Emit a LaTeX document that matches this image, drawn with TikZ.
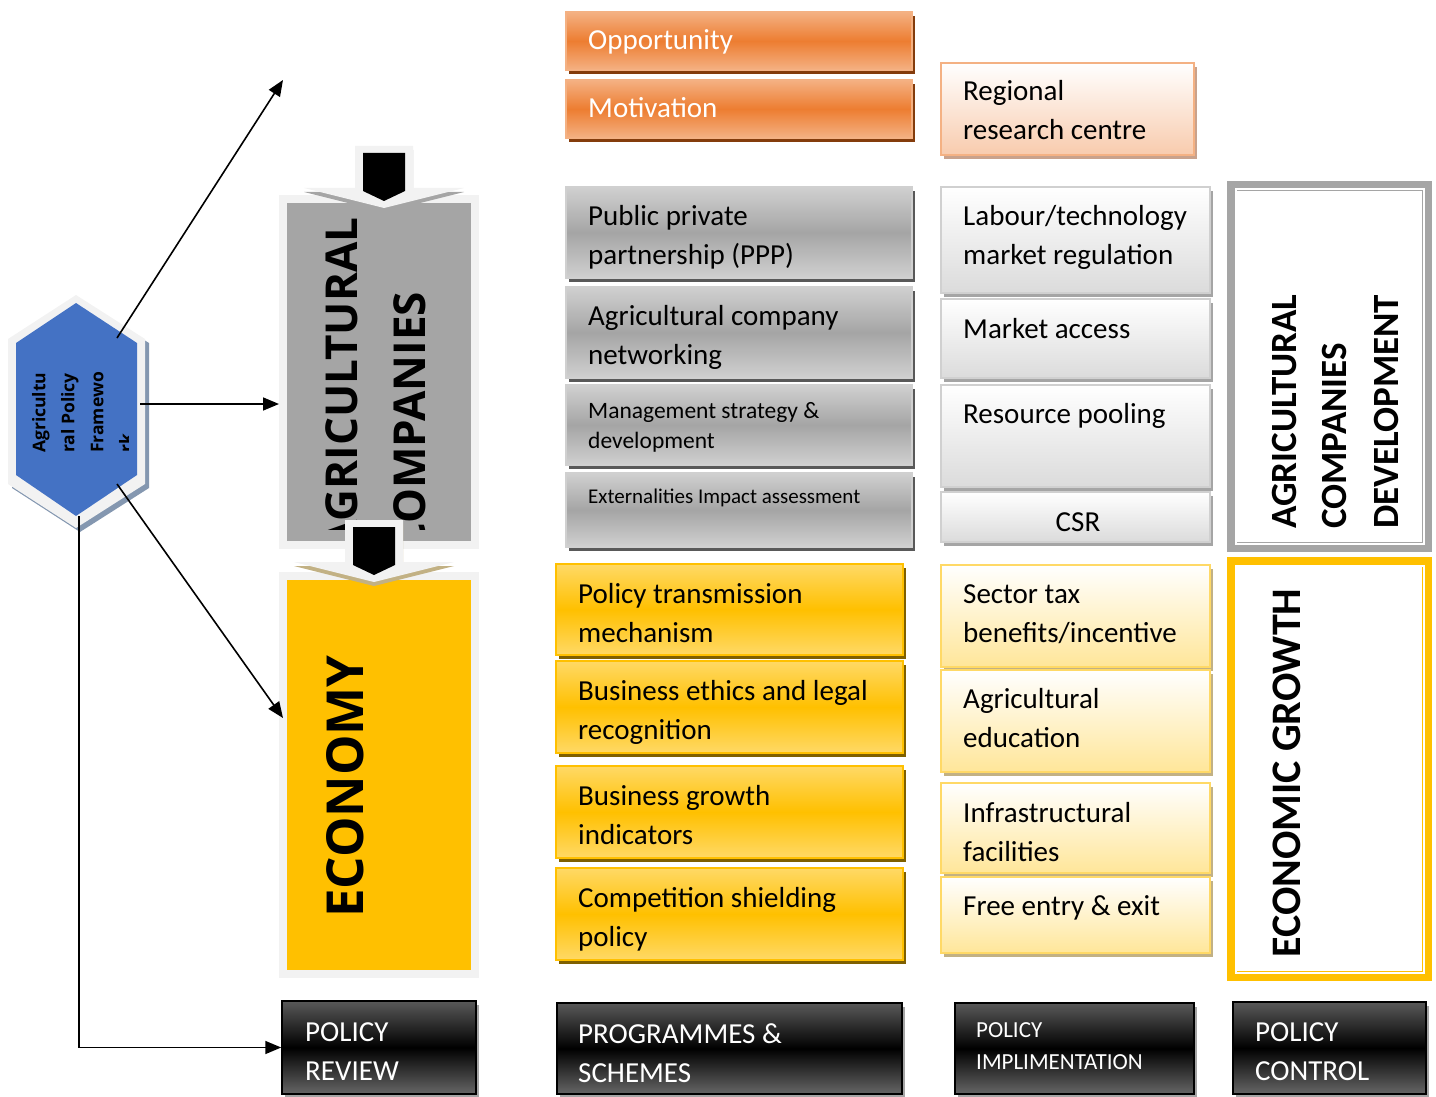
\documentclass[tikz,border=0pt]{standalone}
\usepackage{fontspec}
\setmainfont{Carlito}
\newfontfamily\headfont{Open Sans}
\usetikzlibrary{fit,calc,positioning,shadows,arrows.meta}

\definecolor{hexblue}{HTML}{4472C4}
\definecolor{hexshade}{HTML}{8497B0}
\definecolor{paper}{HTML}{F2F2F2}
\definecolor{orangeM}{HTML}{ED7D31}
\definecolor{orangeL}{HTML}{F4B183}
\definecolor{orangeD}{HTML}{843C0C}
\definecolor{peach}{HTML}{F8CBAD}
\definecolor{peachD}{HTML}{C9A28C}
\definecolor{greyM}{HTML}{A5A5A5}
\definecolor{greyL}{HTML}{D0D0D0}
\definecolor{greyD}{HTML}{595959}
\definecolor{mist}{HTML}{DBDBDB}
\definecolor{goldM}{HTML}{FFC000}
\definecolor{goldL}{HTML}{FFD966}
\definecolor{goldD}{HTML}{7F6000}
\definecolor{cream}{HTML}{FFE699}
\definecolor{creamD}{HTML}{C2B184}

\tikzset{
shadowed/.style={drop shadow={fill=#1, opacity=1, shadow xshift=3pt, shadow yshift=-4pt}},
cell/.style={inner sep=0pt, line width=1.5pt}, % every coloured box
orangecell/.style={cell, draw=orangeL, top color=orangeL, bottom color=orangeL, middle color=orangeM, shadowed=orangeD},
peachcell/.style={cell, draw=orangeL, top color=white, bottom color=peach, shadowed=peachD},
greycell/.style={cell, draw=greyL, top color=greyL, bottom color=greyL, middle color=greyM, shadowed=greyD},
mistcell/.style={cell, draw=greyL, top color=white, bottom color=mist, shadowed=greyM},
goldcell/.style={cell, draw=goldM, top color=goldL, bottom color=goldL, middle color=goldM, shadowed=goldD},
creamcell/.style={cell, draw=goldL, top color=white, bottom color=cream, shadowed=creamD},
darkcell/.style={cell, draw=black, top color=black!65, bottom color=black!60, middle color=black, shadowed=greyM},
panel/.style={inner sep=0pt, draw=paper, line width=8pt, shadowed=#1}, % the two big left columns
frame/.style={inner sep=0pt, draw=#1, line width=9pt}, % the two right columns
txt/.style={anchor=base west, align=left, inner sep=0pt, font=\fontsize{29}{39}\selectfont}, % placed at its last baseline
vtxt/.style={anchor=west, rotate=90, inner sep=0pt},
link/.style={-{Triangle[length=16pt,width=13pt]}, line width=1.6pt},
}

% block arrow pointing down: centre x, top y, shadow colour
\newcommand{\downblock}[3]{
  \fill[#3] ({#1-29},{#2+4}) -- ({#1+29},{#2+4}) -- ({#1+29},{#2+46}) -- ({#1+80},{#2+46})
    -- ({#1},{#2+66}) -- ({#1-80},{#2+46}) -- ({#1-29},{#2+46}) -- cycle;
  \fill[paper] ({#1-29},{#2}) -- ({#1+29},{#2}) -- ({#1+29},{#2+42}) -- ({#1+80},{#2+42})
    -- ({#1},{#2+62}) -- ({#1-80},{#2+42}) -- ({#1-29},{#2+42}) -- cycle;
  \fill[black] ({#1-21},{#2+7}) -- ({#1+21},{#2+7}) -- ({#1+21},{#2+45})
    -- ({#1},{#2+55}) -- ({#1-21},{#2+45}) -- cycle;
}

\begin{document}
\begin{tikzpicture}[x=1pt, y=-1pt]
\useasboundingbox (0,0) rectangle (1436,1097);

% policy framework hexagon
\fill[hexshade] (80,300) -- (149,343) -- (149,488) -- (80,532) -- (12,488) -- (12,343) -- cycle;
\fill[paper] (76,295) -- (145,339) -- (145,484) -- (76,528) -- (8,484) -- (8,339) -- cycle;
\fill[hexblue] (76,303) -- (137,343) -- (137,475) -- (76,516) -- (16,475) -- (16,343) -- cycle;
\begin{scope}
  \clip (16,300) rectangle (128,520);
  \node[rotate=90, anchor=north west, align=left, inner sep=0pt,
    font=\headfont\bfseries\fontsize{17.5}{29}\selectfont] (apf) at (32,453) {Agricultu\\ral Policy\\Framewo\\rk};
\end{scope}
\coordinate (hxNE) at (117,338);
\coordinate (hxE) at (140,404);
\coordinate (hxSE) at (117,484);
\coordinate (hxS) at (79,516);
\coordinate (up) at (283,80);
\coordinate (econin) at (283,718);

% left columns
\node[panel=greyM, fill=greyM, fit={(283,199) (475,545)}] (agri) {};
\begin{scope}
  \clip (287,203) rectangle (471,529);
  \node[vtxt, font=\headfont\bfseries\fontsize{44}{44}\selectfont] (agri1) at (342,551) {AGRICULTURAL};
  \node[vtxt, font=\headfont\bfseries\fontsize{44}{44}\selectfont] (agri2) at (410,551) {COMPANIES};
\end{scope}
\node[panel=creamD, fill=goldM, fit={(283,576) (475,974)}] (econ) {};
\node[vtxt, font=\headfont\bfseries\fontsize{51}{51}\selectfont] (econtxt) at (345,918) {ECONOMY};
\downblock{384}{146}{greyM}
\downblock{374}{520}{creamD}

% programmes column
\node[orangecell, fit={(566,12) (912,70)}] (opp) {};
\node[txt, text=white] (opptxt) at (588,50) {Opportunity};
\node[orangecell, fit={(566,80) (912,138)}] (mot) {};
\node[txt, text=white] (mottxt) at (588,118) {Motivation};

\node[greycell, fit={(566,187) (912,278)}] (ppp) {};
\node[txt] (ppptxt) at (588,264) {Public private\\partnership (PPP)};
\node[greycell, fit={(566,287) (912,378)}] (net) {};
\node[txt] (nettxt) at (588,364) {Agricultural company\\networking};
\node[greycell, fit={(566,385) (912,465)}] (mgmt) {};
\node[txt, font=\fontsize{23.5}{30}\selectfont] (mgmttxt) at (588,448) {Management strategy \&\\development};
\node[greycell, fit={(566,473) (912,547)}] (ext) {};
\node[txt, font=\fontsize{21}{28}\selectfont] (exttxt) at (588,503) {Externalities Impact assessment};

\node[goldcell, fit={(556,564) (903,655)}] (ptm) {};
\node[txt] (ptmtxt) at (578,642) {Policy transmission\\mechanism};
\node[goldcell, fit={(556,661) (903,753)}] (eth) {};
\node[txt] (ethtxt) at (578,739) {Business ethics and legal\\recognition};
\node[goldcell, fit={(556,766) (903,858)}] (bgi) {};
\node[txt] (bgitxt) at (578,844) {Business growth\\indicators};
\node[goldcell, fit={(556,868) (903,960)}] (csp) {};
\node[txt] (csptxt) at (578,946) {Competition shielding\\policy};

% implementation column
\node[peachcell, fit={(941,63) (1194,155)}] (rrc) {};
\node[txt] (rrctxt) at (963,140) {Regional\\research centre};

\node[mistcell, fit={(941,187) (1210,293)}] (lab) {};
\node[txt] (labtxt) at (963,264) {Labour/technology\\market regulation};
\node[mistcell, fit={(941,299) (1210,378)}] (mkt) {};
\node[txt] (mkttxt) at (963,338) {Market access};
\node[mistcell, fit={(941,385) (1210,487)}] (res) {};
\node[txt] (restxt) at (963,423) {Resource pooling};
\node[mistcell, fit={(941,492) (1210,542)}] (csr) {};
\node[txt, anchor=base] (csrtxt) at (1078,531) {CSR};

\node[creamcell, fit={(941,565) (1210,667)}] (tax) {};
\node[txt] (taxtxt) at (963,642) {Sector tax\\benefits/incentive};
\node[creamcell, fit={(941,670) (1210,772)}] (edu) {};
\node[txt] (edutxt) at (963,747) {Agricultural\\education};
\node[creamcell, fit={(941,783) (1210,873)}] (inf) {};
\node[txt] (inftxt) at (963,861) {Infrastructural\\facilities};
\node[creamcell, fit={(941,877) (1210,953)}] (fee) {};
\node[txt] (feetxt) at (963,915) {Free entry \& exit};

% outcome column
\node[frame=greyM, fit={(1231.5,185.5) (1427.5,547.5)}] (dev) {};
\draw[greyM, double=white, double distance=2pt, line width=0.9pt]
  ([shift={(8.5,8.5)}]dev.north west) rectangle ([shift={(-8.5,-8.5)}]dev.south east);
\node[vtxt, font=\bfseries\fontsize{37}{37}\selectfont] (dev1) at (1284,529) {AGRICULTURAL};
\node[vtxt, font=\bfseries\fontsize{37}{37}\selectfont] (dev2) at (1334,529) {COMPANIES};
\node[vtxt, font=\bfseries\fontsize{37}{37}\selectfont] (dev3) at (1386,529) {DEVELOPMENT};
\node[frame=goldM, fit={(1231.5,561.5) (1427.5,976.5)}] (grow) {};
\draw[goldM, double=white, double distance=2pt, line width=0.9pt]
  ([shift={(8.5,8.5)}]grow.north west) rectangle ([shift={(-8.5,-8.5)}]grow.south east);
\node[vtxt, font=\bfseries\fontsize{42}{42}\selectfont] (growtxt) at (1287,958) {ECONOMIC GROWTH};

% bottom row
\node[darkcell, fit={(282,1001) (476,1094)}] (review) {};
\node[txt, text=white] (reviewtxt) at (305,1080) {POLICY\\REVIEW};
\node[darkcell, fit={(557,1003) (902,1094)}] (prog) {};
\node[txt, text=white] (progtxt) at (578,1082) {PROGRAMMES \&\\SCHEMES};
\node[darkcell, fit={(955,1003) (1194,1094)}] (impl) {};
\node[txt, text=white, font=\fontsize{23}{32}\selectfont] (impltxt) at (976,1069) {POLICY\\IMPLIMENTATION};
\node[darkcell, fit={(1233,1002) (1426,1094)}] (ctrl) {};
\node[txt, text=white] (ctrltxt) at (1255,1080) {POLICY\\CONTROL};

% links out of the framework
\draw[link] (hxNE) -- (up);
\draw[link] (hxE) -- (hxE -| agri.west);
\draw[link] (hxSE) -- (econin);
\draw[link] (hxS) |- (review.west);
\end{tikzpicture}
\end{document}
